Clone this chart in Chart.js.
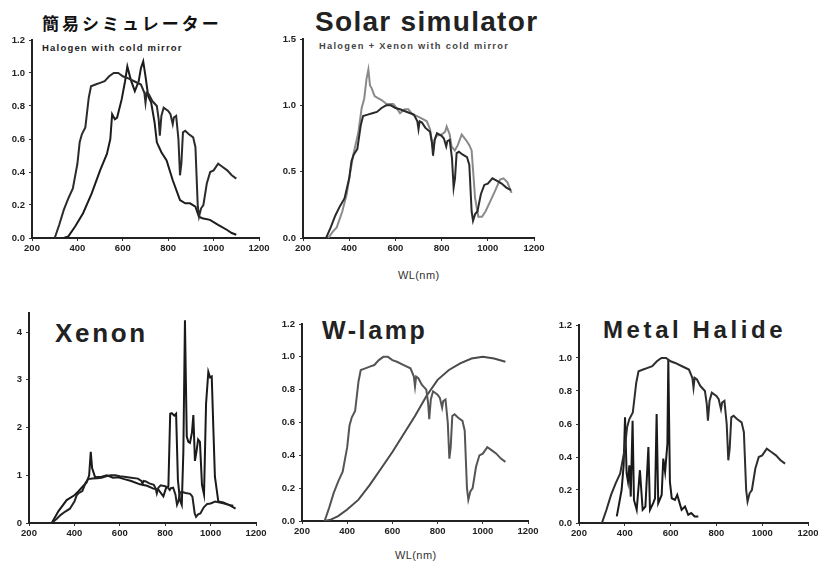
<!DOCTYPE html>
<html>
<head>
<meta charset="utf-8">
<script src="https://cdn.jsdelivr.net/npm/chart.js@4.4.0/dist/chart.umd.min.js"></script>
<style>
  body { margin: 0; background: #fff; width: 818px; height: 563px; position: relative; overflow: hidden; font-family: 'Liberation Sans', Arial, sans-serif; }
  canvas { position: absolute; }
  .lbl { position: absolute; white-space: nowrap; color: #111; font-weight: bold; line-height: 1; }
</style>
</head>
<body>

<div class="lbl" style="left:42px; top:14px; font-family:'Noto Sans CJK JP'; font-size:17px; letter-spacing:3px;">簡易シミュレーター</div>
<div class="lbl" style="left:42px; top:43px; font-size:9.5px; letter-spacing:1.2px; color:#222;">Halogen with cold mirror</div>
<div class="lbl" style="left:315px; top:8px; font-size:28px; letter-spacing:1.3px; color:#222;">Solar simulator</div>
<div class="lbl" style="left:319px; top:42px; font-size:9.3px; letter-spacing:1.3px; color:#444;">Halogen + Xenon with cold mirror</div>
<div class="lbl" style="left:398px; top:270px; font-size:11px; letter-spacing:0.4px; font-weight:normal; color:#333;">WL(nm)</div>
<div class="lbl" style="left:55px; top:320px; font-size:26px; letter-spacing:2.7px; color:#222;">Xenon</div>
<div class="lbl" style="left:322px; top:318px; font-size:25px; letter-spacing:2.6px; color:#222;">W-lamp</div>
<div class="lbl" style="left:603px; top:318px; font-size:24px; letter-spacing:3.6px; color:#222;">Metal Halide</div>
<div class="lbl" style="left:395px; top:550px; font-size:11px; letter-spacing:0.4px; font-weight:normal; color:#333;">WL(nm)</div>

<canvas id="c1"></canvas>
<canvas id="c2"></canvas>
<canvas id="c3"></canvas>
<canvas id="c4"></canvas>
<canvas id="c5"></canvas>

<script>
// wavelength ticks shared by every panel
const xTicks = [200, 400, 600, 800, 1000, 1200];
const yTicks12 = [0, 0.2, 0.4, 0.6, 0.8, 1.0, 1.2];
const yTicks15 = [0, 0.5, 1.0, 1.5];
const yTicksXe = [0, 1, 2, 3, 4];

// normalised sunlight (AM1.5) reference, used in every panel
const sunWL = [300, 320, 340, 360, 380, 400, 410, 420, 435, 450, 460, 480, 500, 520, 540, 560, 580, 600, 620, 650, 680, 695, 700, 705, 715, 730, 750, 758, 763, 770, 780, 800, 810, 820, 825, 835, 845, 852, 858, 865, 875, 890, 910, 920, 930, 936, 945, 955, 970, 985, 1000, 1020, 1040, 1060, 1080, 1100];
const sunVal = [0, 0.08, 0.17, 0.24, 0.3, 0.45, 0.58, 0.63, 0.67, 0.85, 0.92, 0.93, 0.94, 0.95, 0.98, 1.0, 1.0, 0.98, 0.97, 0.95, 0.93, 0.88, 0.82, 0.88, 0.87, 0.83, 0.8, 0.72, 0.62, 0.74, 0.79, 0.77, 0.75, 0.69, 0.73, 0.74, 0.6, 0.38, 0.45, 0.64, 0.65, 0.63, 0.61, 0.55, 0.2, 0.13, 0.18, 0.2, 0.33, 0.4, 0.41, 0.45, 0.43, 0.41, 0.38, 0.36];

// halogen with cold mirror
const halWL = [340, 360, 390, 425, 463, 500, 530, 545, 553, 565, 575, 595, 610, 620, 635, 653, 670, 680, 690, 700, 712, 725, 740, 750, 770, 793, 820, 852, 875, 896, 920, 935, 950, 984, 1020, 1058, 1080, 1100];
const halVal = [0, 0.01, 0.07, 0.15, 0.27, 0.41, 0.51, 0.6, 0.75, 0.72, 0.73, 0.84, 0.95, 1.04, 0.96, 0.89, 0.95, 1.03, 1.07, 0.98, 0.86, 0.82, 0.7, 0.58, 0.52, 0.47, 0.35, 0.23, 0.21, 0.21, 0.19, 0.13, 0.12, 0.11, 0.08, 0.05, 0.03, 0.02];

// halogen + xenon solar simulator
const simWL = [309, 330, 346, 370, 389, 405, 418, 440, 454, 465, 475, 483, 490, 497, 510, 519, 540, 562, 591, 605, 620, 640, 656, 675, 692, 715, 736, 750, 764, 770, 778, 800, 815, 822, 835, 843, 857, 870, 887, 905, 920, 930, 945, 959, 975, 990, 1009, 1030, 1053, 1068, 1085, 1103];
const simVal = [0, 0.05, 0.08, 0.2, 0.33, 0.5, 0.63, 0.8, 0.98, 1.05, 1.2, 1.27, 1.15, 1.13, 1.07, 1.06, 1.04, 1.01, 1.01, 0.98, 0.94, 0.97, 0.97, 0.93, 0.92, 0.9, 0.88, 0.82, 0.66, 0.74, 0.77, 0.78, 0.8, 0.84, 0.78, 0.69, 0.66, 0.7, 0.78, 0.74, 0.7, 0.66, 0.3, 0.16, 0.16, 0.2, 0.27, 0.35, 0.44, 0.45, 0.42, 0.34];

// xenon lamp
const xeWL = [300, 330, 366, 400, 417, 440, 454, 465, 472, 478, 491, 520, 543, 570, 593, 620, 650, 689, 720, 748, 770, 792, 805, 814, 822, 829, 840, 848, 856, 865, 873, 880, 887, 891, 895, 902, 909, 918, 924, 931, 938, 945, 953, 962, 971, 980, 990, 998, 1005, 1012, 1019, 1034, 1056, 1085, 1110];
const xeVal = [0, 0.25, 0.48, 0.58, 0.66, 0.78, 0.85, 1.0, 1.49, 1.15, 0.96, 0.97, 1.0, 0.95, 0.96, 0.92, 0.88, 0.81, 0.78, 0.72, 0.7, 0.56, 0.75, 0.76, 2.29, 2.3, 2.25, 2.29, 0.9, 0.48, 0.38, 1.5, 4.25, 3.0, 1.81, 1.7, 1.68, 1.9, 2.26, 1.3, 1.5, 1.75, 1.7, 0.8, 0.6, 2.5, 3.17, 3.05, 3.07, 2.0, 0.97, 0.45, 0.43, 0.37, 0.3];

// tungsten lamp
const wWL = [300, 330, 360, 400, 450, 500, 550, 600, 650, 700, 750, 800, 850, 900, 950, 1000, 1050, 1100];
const wVal = [0, 0.01, 0.03, 0.07, 0.13, 0.22, 0.32, 0.42, 0.53, 0.64, 0.76, 0.86, 0.92, 0.96, 0.99, 1.0, 0.99, 0.97];

// metal halide lamp
const mhWL = [365, 386, 395, 401, 408, 414, 420, 426, 434, 440, 452, 466, 478, 490, 503, 510, 524, 532, 539, 546, 561, 568, 576, 586, 590, 597, 605, 619, 629, 648, 663, 677, 690, 705, 721];
const mhVal = [0.04, 0.2, 0.35, 0.64, 0.3, 0.25, 0.35, 0.16, 0.62, 0.14, 0.08, 0.32, 0.08, 0.1, 0.46, 0.08, 0.12, 0.15, 0.66, 0.12, 0.17, 0.39, 0.31, 0.48, 0.99, 0.25, 0.15, 0.14, 0.17, 0.08, 0.1, 0.05, 0.06, 0.04, 0.04];

// plot area of each panel on the page: left, right, top, bottom
const panels = [
    { id: 'c1', area: [32, 259, 40, 238], yMax: 1.2, yTicks: yTicks12, dec: 1,
      series: [[sunWL, sunVal, '#2b2b2b'], [halWL, halVal, '#1c1c1c']] },
    { id: 'c2', area: [303, 534, 39, 238], yMax: 1.5, yTicks: yTicks15, dec: 1,
      series: [[sunWL, sunVal, '#2a2a2a'], [simWL, simVal, '#8a8a8a']] },
    { id: 'c3', area: [29, 256, 313, 523], yMax: 4.4, yTicks: yTicksXe, dec: 0,
      series: [[sunWL, sunVal, '#222'], [xeWL, xeVal, '#1a1a1a']] },
    { id: 'c4', area: [302, 528, 324, 521], yMax: 1.2, yTicks: yTicks12, dec: 1,
      series: [[sunWL, sunVal, '#555'], [wWL, wVal, '#4a4a4a']] },
    { id: 'c5', area: [579, 808, 325, 523], yMax: 1.2, yTicks: yTicks12, dec: 1,
      series: [[sunWL, sunVal, '#2e2e2e'], [mhWL, mhVal, '#1a1a1a']] }
];

const PAD_L = 30, PAD_T = 10, PAD_R = 12, PAD_B = 22;
const tickFont = { family: "'Liberation Sans', Arial, sans-serif", size: 9.5, weight: 'bold' };

panels.forEach(p => {
    const [left, right, top, bottom] = p.area;
    const canvas = document.getElementById(p.id);
    const w = right - left + PAD_L + PAD_R;
    const h = bottom - top + PAD_T + PAD_B;
    canvas.width = w;
    canvas.height = h;
    canvas.style.width = w + 'px';
    canvas.style.height = h + 'px';
    canvas.style.left = (left - PAD_L) + 'px';
    canvas.style.top = (top - PAD_T) + 'px';

    const datasets = p.series.map(([wl, val, color]) => ({
        data: wl.map((x, i) => ({ x: x, y: val[i] })),
        borderColor: color,
        borderWidth: 2,
        pointRadius: 0,
        tension: 0,
        fill: false
    }));

    new Chart(canvas.getContext('2d'), {
        type: 'line',
        data: { datasets: datasets },
        options: {
            responsive: false,
            animation: false,
            layout: { padding: { left: 0, top: PAD_T, right: PAD_R, bottom: 0 } },
            plugins: { legend: { display: false }, tooltip: { enabled: false } },
            scales: {
                x: {
                    type: 'linear',
                    min: 200,
                    max: 1200,
                    afterBuildTicks: s => { s.ticks = xTicks.map(v => ({ value: v })); },
                    afterFit: s => { s.height = PAD_B; s.paddingLeft = 0; s.paddingRight = 0; },
                    grid: { drawOnChartArea: false, tickLength: 3, color: '#333' },
                    border: { color: '#222', width: 2 },
                    ticks: { font: tickFont, color: '#222', padding: 2, maxRotation: 0, autoSkip: false, callback: v => String(v) }
                },
                y: {
                    min: 0,
                    max: p.yMax,
                    afterBuildTicks: s => { s.ticks = p.yTicks.map(v => ({ value: v })); },
                    afterFit: s => { s.width = PAD_L; s.paddingTop = 0; s.paddingBottom = 0; },
                    grid: { drawOnChartArea: false, tickLength: 3, color: '#333' },
                    border: { color: '#222', width: 2 },
                    ticks: { font: tickFont, color: '#222', padding: 4, callback: v => v.toFixed(p.dec) }
                }
            }
        }
    });
});
</script>
</body>
</html>
